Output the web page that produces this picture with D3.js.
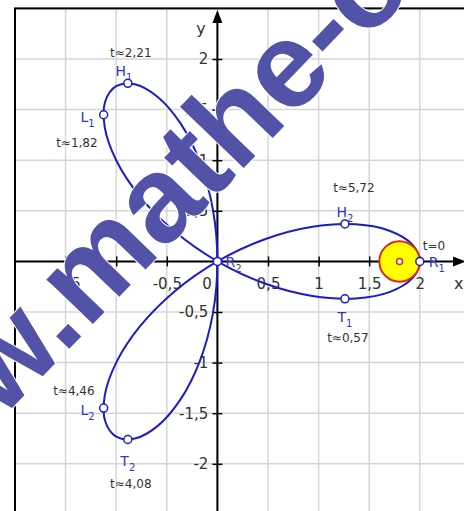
<!DOCTYPE html>
<html><head><meta charset="utf-8">
<script src="https://cdn.jsdelivr.net/npm/d3@7"></script>
<style>
html,body{margin:0;padding:0;background:#fff;overflow:hidden;}
svg{display:block;}
</style></head>
<body>
<svg id="chart" width="464" height="511"></svg>
<script>
// ---- data ----
const curveX = [2, 1.9245, 1.7057, 1.366, 0.9397, 0.4691, 0, -0.424, -0.7661, -1, -1.1133, -1.108, -1, -0.8164, -0.5924, -0.366, -0.1737, -0.0451,
                0, -0.0451, -0.1737, -0.366, -0.5924, -0.8164, -1, -1.108, -1.1133, -1, -0.7661, -0.424, 0, 0.4691, 0.9397, 1.366, 1.7057, 1.9245];
const curveY = [0, -0.1684, -0.3008, -0.366, -0.342, -0.2188, 0, 0.2969, 0.6428, 1, 1.3268, 1.5825, 1.7321, 1.7508, 1.6276, 1.366, 0.9848, 0.5156,
                0, -0.5156, -0.9848, -1.366, -1.6276, -1.7508, -1.7321, -1.5825, -1.3268, -1, -0.6428, -0.2969, 0, 0.2188, 0.342, 0.366, 0.3008, 0.1684];
const pointNames = ["R", "T", "L", "H", "R", "T", "L", "H"];
const pointSubs  = ["1", "1", "1", "1", "2", "2", "2", "2"];
const pointX = [2, 1.26, -1.124, -0.885, 0, -0.885, -1.124, 1.26];
const pointY = [0, -0.37, 1.449, 1.76, 0, -1.76, -1.449, 0.37];
const pointT = ["t=0", "t≈0,57", "t≈1,82", "t≈2,21", "", "t≈4,08", "t≈4,46", "t≈5,72"];
const xTickValues = [-1.5, -1, -0.5, 0, 0.5, 1, 1.5, 2];
const yTickValues = [-2, -1.5, -1, -0.5, 0.5, 1, 1.5, 2];
const wheelCenter = [1.8, 0];
const wheelRadius = 0.2;
const watermarkText = "www.mathe-online.at";

// ---- layout ----
const svg = d3.select("#chart");
const x = d3.scaleLinear().domain([-2, 2.5]).range([15, 15 + 4.5 * 101.2]);
const y = d3.scaleLinear().domain([-2.5, 2.5]).range([8.4 + 5 * 101.2, 8.4]);
const fmt = d3.formatLocale({decimal: ",", thousands: ".", grouping: [3], currency: ["", ""], minus: "-"}).format("~g");
const FONT = "'DejaVu Sans', Verdana, sans-serif";
const BLUE = "#1c1cc8", LBLUE = "#3434c8", TXT = "#333";

// grid
const gx = d3.range(-2, 2.51, 0.5), gy = d3.range(-2.5, 2.51, 0.5);
svg.append("g").selectAll("line").data(gx).join("line")
  .attr("x1", d => x(d)).attr("x2", d => x(d)).attr("y1", y(2.5)).attr("y2", y(-2.5))
  .attr("stroke", "#d6d6d6").attr("stroke-width", 1.5);
svg.append("g").selectAll("line").data(gy).join("line")
  .attr("y1", d => y(d)).attr("y2", d => y(d)).attr("x1", x(-2)).attr("x2", x(2.5))
  .attr("stroke", "#d6d6d6").attr("stroke-width", 1.5);

// frame
svg.append("rect").attr("x", x(-2)).attr("y", y(2.5)).attr("width", x(2.5) - x(-2)).attr("height", y(-2.5) - y(2.5))
  .attr("fill", "none").attr("stroke", "#000").attr("stroke-width", 2);

// axes
const x0 = x(0), y0 = y(0);
svg.append("line").attr("x1", x(-2)).attr("x2", 456).attr("y1", y0).attr("y2", y0).attr("stroke", "#000").attr("stroke-width", 2);
svg.append("line").attr("x1", x0).attr("x2", x0).attr("y1", y(-2.5)).attr("y2", 20).attr("stroke", "#000").attr("stroke-width", 2);
svg.append("path").attr("d", `M${x0},10 L${x0 - 5},23 L${x0 + 5},23 Z`).attr("fill", "#000");
svg.append("path").attr("d", `M466,${y0} L453,${y0 - 5} L453,${y0 + 5} Z`).attr("fill", "#000");

const xAxis = d3.axisBottom(x).tickValues(xTickValues).tickFormat(fmt).tickSize(5).tickPadding(12);
const gxa = svg.append("g").attr("transform", `translate(0,${y0})`).call(xAxis);
gxa.select(".domain").remove();
gxa.selectAll(".tick line").attr("y1", -5).attr("y2", 5).attr("stroke", "#000").attr("stroke-width", 1.5);
gxa.selectAll(".tick text").attr("font-family", FONT).attr("font-size", 15).attr("fill", TXT)
  .attr("dx", d => d === 0 ? -11 : 0);
gxa.selectAll(".tick").filter(d => d === 0).select("line").remove();

const yAxis = d3.axisLeft(y).tickValues(yTickValues).tickFormat(fmt).tickSize(5).tickPadding(4);
const gya = svg.append("g").attr("transform", `translate(${x0},0)`).call(yAxis);
gya.select(".domain").remove();
gya.selectAll(".tick line").attr("x1", -5).attr("x2", 5).attr("stroke", "#000").attr("stroke-width", 1.5);
gya.selectAll(".tick text").attr("font-family", FONT).attr("font-size", 15).attr("fill", TXT);

svg.append("text").attr("x", 454).attr("y", 289).text("x").attr("font-family", FONT).attr("font-size", 16).attr("fill", TXT);
svg.append("text").attr("x", 201).attr("y", 34).attr("text-anchor", "middle").text("y").attr("font-family", FONT).attr("font-size", 16).attr("fill", TXT);

// curve
const pts = curveX.map((v, i) => [v, curveY[i]]);
svg.append("path").datum(pts)
  .attr("d", d3.line().x(d => x(d[0])).y(d => y(d[1])).curve(d3.curveCatmullRomClosed.alpha(0.5)))
  .attr("fill", "none").attr("stroke", BLUE).attr("stroke-width", 2);

// wheel
const rpx = x(wheelRadius) - x(0);
svg.append("circle").attr("cx", x(wheelCenter[0])).attr("cy", y(wheelCenter[1])).attr("r", rpx)
  .attr("fill", "#ffff00").attr("stroke", "#dd2a1a").attr("stroke-width", 2);
svg.append("circle").attr("cx", x(wheelCenter[0])).attr("cy", y(wheelCenter[1])).attr("r", 3)
  .attr("fill", "#fff").attr("stroke", "#dd2a1a").attr("stroke-width", 1.5);

// points & labels
const labelStyle = [
  // [nameAnchor, ndx, ndy, tAnchor, tdx, tdy]
  ["start", 9, 6, "start", 3, -11],
  ["middle", 0, 23, "middle", 3, 43],
  ["end", -9, 7, "end", -6, 32],
  ["middle", -4, -7, "middle", 3, -26],
  ["start", 8, 6, "start", 0, 0],
  ["middle", 0, 26, "middle", 3, 48],
  ["end", -9, 7, "end", -9, -13],
  ["middle", 0, -7, "middle", 9, -32]
];
pointX.forEach((px, i) => {
  const cx = x(px), cy = y(pointY[i]);
  const s = labelStyle[i];
  const t = svg.append("text").attr("x", cx + s[1]).attr("y", cy + s[2]).attr("text-anchor", s[0])
    .attr("font-family", FONT).attr("font-size", 14).attr("fill", LBLUE);
  t.append("tspan").text(pointNames[i]);
  t.append("tspan").attr("font-size", 10).attr("dy", 5).text(pointSubs[i]);
  if (pointT[i]) {
    svg.append("text").attr("x", cx + s[4]).attr("y", cy + s[5]).attr("text-anchor", s[3])
      .attr("font-family", FONT).attr("font-size", 12).attr("fill", TXT).text(pointT[i]);
  }
});
svg.append("g").selectAll("circle").data(pointX).join("circle")
  .attr("cx", d => x(d)).attr("cy", (d, i) => y(pointY[i])).attr("r", 4)
  .attr("fill", "#fff").attr("stroke", BLUE).attr("stroke-width", 1.5);

// watermark
const wmFont = "bold 122px 'Liberation Sans'";
const ctx = document.createElement("canvas").getContext("2d");
ctx.font = wmFont;
const wPre = ctx.measureText("www").width, wDot = ctx.measureText(".").width;
const ang = -46;
svg.append("g").attr("transform", `translate(72,333) rotate(${ang})`)
  .append("text").attr("x", -(wPre + wDot / 2)).attr("y", 9)
  .attr("font-family", "'Liberation Sans'").attr("font-weight", "bold").attr("font-size", 122)
  .attr("fill", "#5252a8").attr("stroke", "#fff").attr("stroke-width", 2).attr("paint-order", "stroke")
  .text(watermarkText);
</script>
</body></html>
